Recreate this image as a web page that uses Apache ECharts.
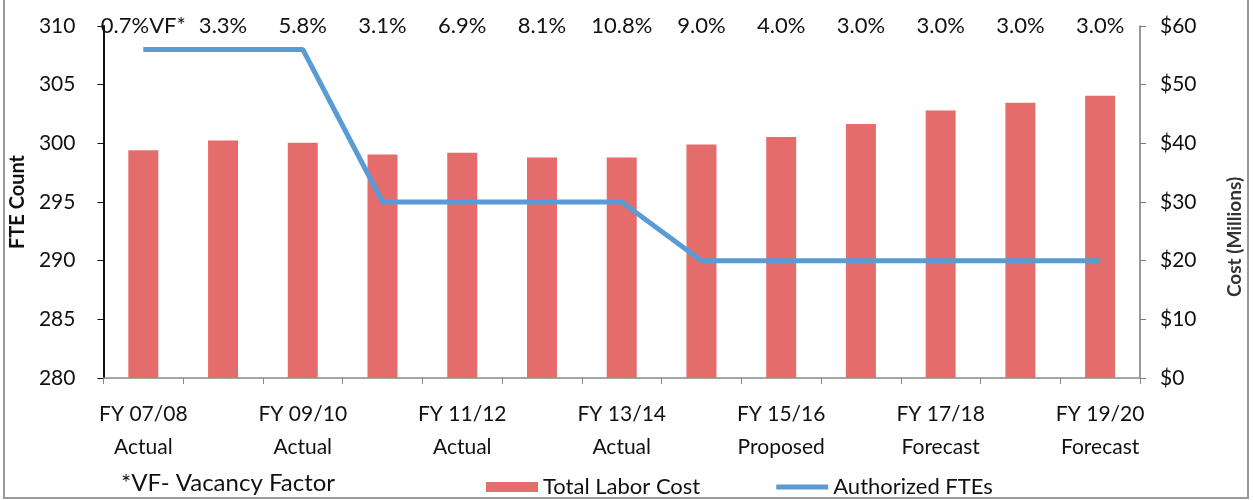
<!DOCTYPE html>
<html>
<head>
<meta charset="utf-8">
<script src="https://cdn.jsdelivr.net/npm/echarts@6/dist/echarts.min.js"></script>
<style>
html,body{margin:0;padding:0;background:#fff;}
#chart{width:1253px;height:500px;}
</style>
</head>
<body>
<div id="chart"></div>
<script>
const fiscalYears = ['FY 07/08','FY 08/09','FY 09/10','FY 10/11','FY 11/12','FY 12/13','FY 13/14','FY 14/15','FY 15/16','FY 16/17','FY 17/18','FY 18/19','FY 19/20'];
const statuses = ['Actual','Actual','Actual','Actual','Actual','Actual','Actual','Adopted','Proposed','Forecast','Forecast','Forecast','Forecast'];
const laborCost = [38.8,40.5,40.1,38.1,38.4,37.6,37.6,39.8,41.1,43.3,45.6,46.9,48.1];
const authorizedFTEs = [308,308,308,295,295,295,295,290,290,290,290,290,290];
const vacancyLabels = ['0.7%VF*','3.3%','5.8%','3.1%','6.9%','8.1%','10.8%','9.0%','4.0%','3.0%','3.0%','3.0%','3.0%'];
const fteTicks = {min:280, max:310, interval:5};
const costTicks = {min:0, max:60, interval:10};
const footnote = '*VF- Vacancy Factor';

const FONT = 'Lato';
const categories = fiscalYears.map((y,i)=>y+'\n'+statuses[i]);

const chart = echarts.init(document.getElementById('chart'));
chart.setOption({
  animation:false,
  backgroundColor:'#fff',
  textStyle:{fontFamily:FONT},
  grid:{left:102,right:113,top:26,bottom:122},
  legend:{
    left:481, top:471,
    itemWidth:52, itemHeight:10, itemGap:76,
    textStyle:{fontSize:22,color:'#111',fontFamily:FONT},
    data:[
      {name:'Total Labor Cost',icon:'rect'},
      {name:'Authorized FTEs',icon:'path://M0,0L0.01,0M0,2.5H52V7.5H0ZM0,10L0.01,10'}
    ]
  },
  graphic:[
    {type:'text',left:121,top:471,style:{text:footnote,font:'24px '+FONT,fill:'#111'}},
    {type:'rect',shape:{x:4,y:-2,width:1244,height:500},style:{fill:'none',stroke:'#999',lineWidth:2},silent:true}
  ],
  xAxis:{
    type:'category', data:categories, boundaryGap:true,
    axisLine:{lineStyle:{color:'#888',width:1.5}},
    axisTick:{show:true,interval:0,length:6,lineStyle:{color:'#888'}},
    axisLabel:{interval:1,margin:20,fontSize:21,lineHeight:33,color:'#111',fontFamily:FONT}
  },
  yAxis:[
    {type:'value',position:'left',min:fteTicks.min,max:fteTicks.max,interval:fteTicks.interval,
     name:'FTE Count',nameLocation:'middle',nameGap:62,nameRotate:90,
     nameTextStyle:{fontSize:20,fontWeight:'bold',color:'#111',fontFamily:FONT},
     axisLine:{show:true,lineStyle:{color:'#111',width:2}},
     axisTick:{show:true,length:6,lineStyle:{color:'#111'}},
     splitLine:{show:false},
     axisLabel:{margin:28,fontSize:21,color:'#111',fontFamily:FONT}},
    {type:'value',position:'right',min:costTicks.min,max:costTicks.max,interval:costTicks.interval,
     name:'Cost (Millions)',nameLocation:'middle',nameGap:85,nameRotate:90,
     nameTextStyle:{fontSize:19,fontWeight:'bold',color:'#333',fontFamily:FONT,padding:[0,70,0,0]},
     axisLine:{show:true,lineStyle:{color:'#777',width:1.5}},
     axisTick:{show:true,length:6,lineStyle:{color:'#777'}},
     splitLine:{show:false},
     axisLabel:{margin:20,fontSize:21,color:'#111',fontFamily:FONT,formatter:v=>'$'+v}}
  ],
  series:[
    {name:'Total Labor Cost',type:'bar',yAxisIndex:1,data:laborCost,barWidth:30,
     itemStyle:{color:'#E46D6B'}},
    {name:'Authorized FTEs',type:'line',yAxisIndex:0,data:authorizedFTEs,symbol:'none',
     lineStyle:{color:'#5B9BD5',width:5},itemStyle:{color:'#5B9BD5'},z:5},
    {name:'vacancy',type:'scatter',yAxisIndex:0,data:vacancyLabels.map(()=>fteTicks.max),
     symbolSize:2,itemStyle:{color:'rgba(255,255,255,0)'},clip:false,silent:true,z:10,
     label:{show:true,position:'inside',formatter:p=>vacancyLabels[p.dataIndex],
       fontSize:22,color:'#111',opacity:1,textBorderWidth:0,textBorderColor:'transparent',fontFamily:FONT}}
  ]
});
</script>
</body>
</html>
